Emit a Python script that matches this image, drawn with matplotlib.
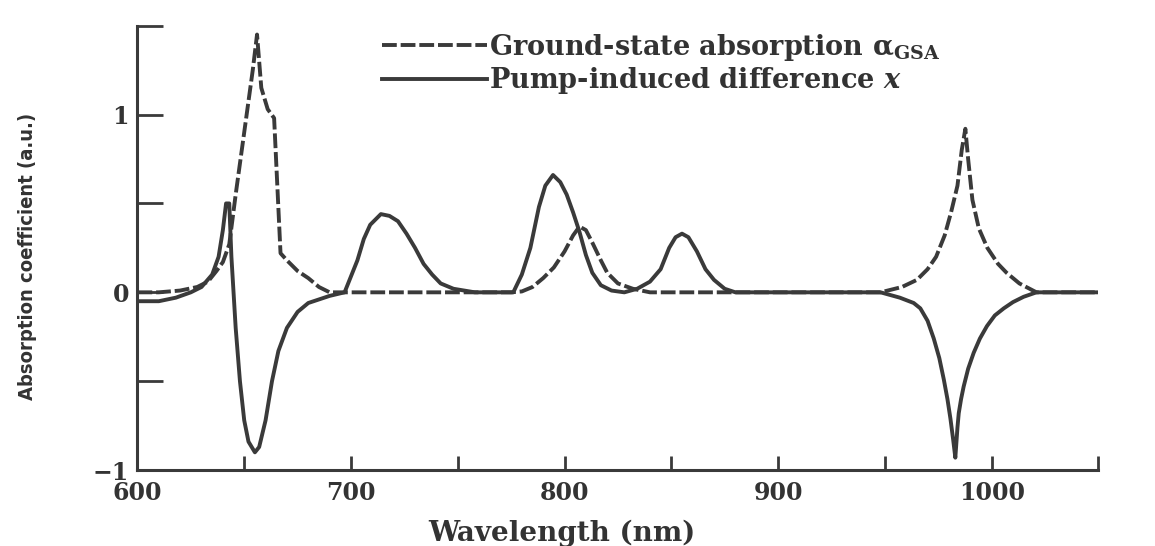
# absorption spectra: ground-state absorption vs pump-induced difference

import matplotlib.pyplot as plt
from matplotlib.ticker import FixedLocator

# ground-state absorption (dashed)
wl_gsa = [600, 610, 620, 628, 633, 637, 640, 643, 646, 650, 654, 656, 658, 661,
          664, 665.5, 667, 670, 675, 680, 685, 690, 700, 760, 775, 780, 785, 790,
          795, 800, 804, 807, 810, 813, 817, 820, 825, 832, 840, 900, 948, 958,
          965, 970, 974, 978, 981, 984, 986, 987.7, 989, 991, 994, 998, 1003,
          1007, 1013, 1021, 1050]
a_gsa = [0.0, 0.0, 0.01, 0.03, 0.06, 0.12, 0.17, 0.27, 0.55, 0.9, 1.25, 1.45,
         1.15, 1.03, 0.98, 0.6, 0.22, 0.18, 0.12, 0.08, 0.03, 0.0, 0.0, 0.0, 0.0,
         0.005, 0.03, 0.08, 0.14, 0.23, 0.32, 0.37, 0.35, 0.28, 0.18, 0.11, 0.05,
         0.02, 0.0, 0.0, 0.0, 0.03, 0.07, 0.13, 0.2, 0.32, 0.45, 0.6, 0.8, 0.92,
         0.75, 0.52, 0.36, 0.25, 0.16, 0.11, 0.05, 0.0, 0.0]

# pump-induced difference (solid)
wl_x = [600, 610, 618, 625, 630, 635, 638, 640, 641.5, 643, 644, 646, 648, 650,
        652, 655, 657, 660, 663, 666, 670, 675, 680, 690, 697, 703, 706, 709,
        714, 718, 722, 726, 730, 734, 738, 742, 748, 758, 776, 780, 784, 788,
        791, 794.6, 798, 801, 804, 807, 810, 813, 817, 822, 828, 834, 840, 845,
        849, 852, 855, 858, 862, 866, 870, 875, 880, 948, 957, 963.5, 966.6,
        970, 972.9, 975.5, 977.6, 979.3, 980.7, 982, 983, 984, 984.6, 985.7,
        986.9, 989, 991.6, 994.5, 997.8, 1001.5, 1005.7, 1010, 1015, 1021, 1050]
x_diff = [-0.05, -0.05, -0.03, 0.0, 0.03, 0.1, 0.2, 0.35, 0.5, 0.5, 0.2, -0.2,
          -0.5, -0.72, -0.84, -0.9, -0.87, -0.72, -0.5, -0.33, -0.2, -0.11, -0.06,
          -0.02, 0.0, 0.18, 0.3, 0.38, 0.44, 0.43, 0.4, 0.33, 0.25, 0.16, 0.1,
          0.05, 0.02, 0.0, 0.0, 0.1, 0.25, 0.48, 0.6, 0.66, 0.62, 0.55, 0.45, 0.34,
          0.21, 0.11, 0.04, 0.01, 0.0, 0.02, 0.06, 0.13, 0.25, 0.31, 0.33, 0.31,
          0.23, 0.13, 0.07, 0.02, 0.0, 0.0, -0.03, -0.06, -0.09, -0.16, -0.26,
          -0.37, -0.49, -0.6, -0.71, -0.83, -0.93, -0.76, -0.68, -0.6, -0.53,
          -0.43, -0.34, -0.26, -0.19, -0.13, -0.09, -0.055, -0.025, 0.0, 0.0]

col = "#3a3a3a"
txt = "#333333"
plt.rcParams["font.family"] = ["DejaVu Serif"]
plt.rcParams["mathtext.fontset"] = "dejavuserif"

fig = plt.figure(figsize=(11.55, 5.46), dpi=100)
ax = fig.add_axes([0.119, 0.139, 0.832, 0.814])

ax.plot(wl_gsa, a_gsa, color=col, lw=2.8, dashes=(3.8, 1.0),
        label=r"Ground-state absorption $\mathbf{\alpha}_{\mathbf{GSA}}$")
ax.plot(wl_x, x_diff, color=col, lw=2.8,
        label=r"Pump-induced difference $\boldsymbol{x}$")

ax.set_xlim(600, 1050)
ax.set_ylim(-1, 1.5)

for s in ["top", "right"]:
    ax.spines[s].set_visible(False)
for s in ["left", "bottom"]:
    ax.spines[s].set_linewidth(2.2)
    ax.spines[s].set_color(col)

ax.xaxis.set_major_locator(FixedLocator([600, 700, 800, 900, 1000]))
ax.xaxis.set_minor_locator(FixedLocator([650, 750, 850, 950, 1050]))
ax.yaxis.set_major_locator(FixedLocator([-1, 0, 1]))
ax.yaxis.set_minor_locator(FixedLocator([-0.5, 0.5, 1.5]))
ax.set_yticklabels(["\u22121", "0", "1"])

ax.tick_params(axis="x", which="both", direction="in", length=10, width=2,
               color=col, labelsize=17, labelcolor=txt, pad=8)
ax.tick_params(axis="y", which="both", direction="in", length=19, width=2,
               color=col, labelsize=17, labelcolor=txt, pad=6)
for lab in ax.get_xticklabels() + ax.get_yticklabels():
    lab.set_fontweight("bold")

ax.set_xlabel("Wavelength (nm)", fontsize=20, color=txt, fontweight="bold")
ax.xaxis.set_label_coords(0.442, -0.112)
ax.set_ylabel("Absorption coefficient (a.u.)", fontsize=14.5, color=txt,
              family=["DejaVu Sans"], fontstretch="condensed", fontweight="bold")
ax.yaxis.set_label_coords(-0.105, 0.48)

ax.legend(loc="upper left", bbox_to_anchor=(0.24, 1.017), frameon=False,
          handlelength=3.9, handletextpad=0.05, labelspacing=0.1,
          borderpad=0, labelcolor=txt,
          prop={"size": 19.5, "weight": "bold", "family": "DejaVu Serif"})

fig.savefig("out.png", dpi=100)
